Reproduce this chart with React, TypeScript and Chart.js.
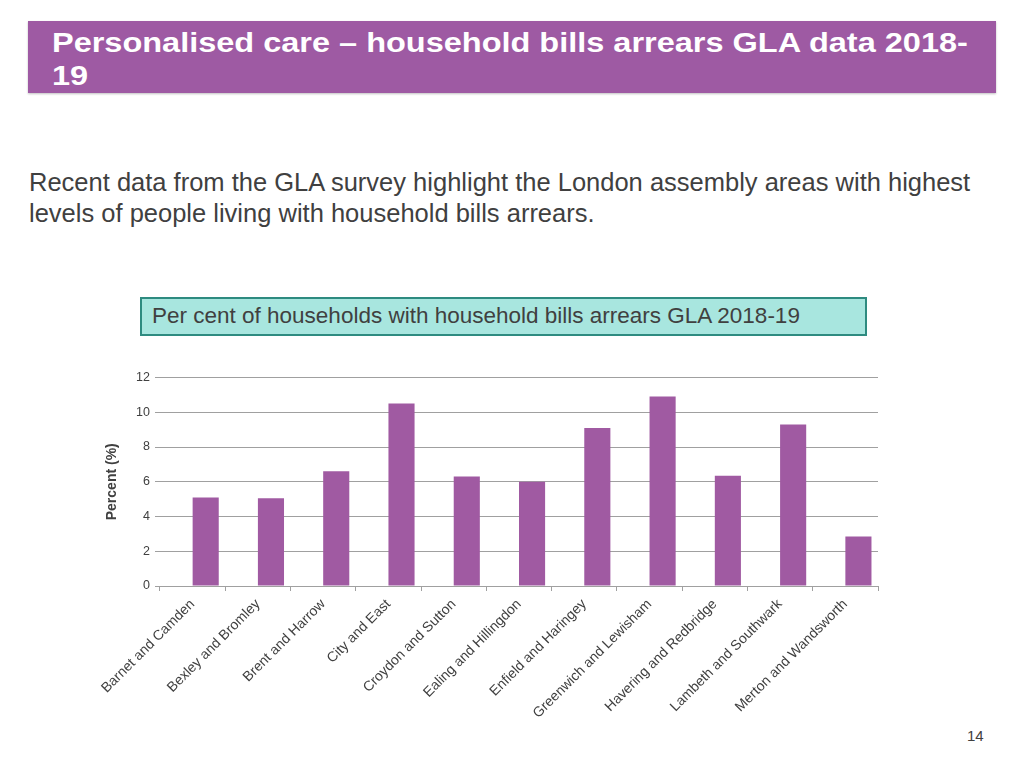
import React, { useEffect, useRef } from "react";
import { Chart, registerables } from "chart.js";

Chart.register(...registerables);

const categories = [
  "Barnet and Camden",
  "Bexley and Bromley",
  "Brent and Harrow",
  "City and East",
  "Croydon and Sutton",
  "Ealing and Hillingdon",
  "Enfield and Haringey",
  "Greenwich and Lewisham",
  "Havering and Redbridge",
  "Lambeth and Southwark",
  "Merton and Wandsworth",
];
const emptySeries = [null, null, null, null, null, null, null, null, null, null, null];
const arrearsPercent = [5.1, 5.05, 6.6, 10.5, 6.3, 6.0, 9.1, 10.9, 6.35, 9.3, 2.85];
const yTicks = [0, 2, 4, 6, 8, 10, 12];

const FONT = "'Liberation Sans', Arial, Helvetica, sans-serif";
const TEXT = "#404040";

export default function App() {
  const ref = useRef<HTMLCanvasElement | null>(null);

  useEffect(() => {
    if (!ref.current) return;
    const chart = new Chart(ref.current, {
      type: "bar",
      data: {
        labels: categories,
        datasets: [
          {
            label: "",
            data: emptySeries as any,
            backgroundColor: "rgba(0,0,0,0)",
            borderWidth: 0,
            barPercentage: 1,
            categoryPercentage: 0.8,
          },
          {
            label: "Per cent",
            data: arrearsPercent,
            backgroundColor: "#a05aa2",
            borderWidth: 0,
            barPercentage: 1,
            categoryPercentage: 0.8,
          },
        ],
      },
      options: {
        animation: false,
        responsive: false,
        maintainAspectRatio: false,
        layout: { padding: { left: 0, right: 12, top: 8, bottom: 0 } },
        plugins: { legend: { display: false }, tooltip: { enabled: false } },
        scales: {
          x: {
            offset: true,
            grid: {
              offset: true,
              drawOnChartArea: false,
              drawTicks: true,
              tickLength: 5,
              color: "#a0a0a0",
            },
            border: { display: true, color: "#a0a0a0", width: 1 },
            ticks: {
              minRotation: 45,
              maxRotation: 45,
              autoSkip: false,
              color: TEXT,
              font: { family: FONT, size: 14 },
              padding: 5,
            },
            afterFit: (s: any) => {
              s.height = 159;
            },
          },
          y: {
            min: 0,
            max: 12,
            afterBuildTicks: (s: any) => {
              s.ticks = yTicks.map((v) => ({ value: v }));
            },
            grid: {
              color: "#a0a0a0",
              lineWidth: 1,
              drawTicks: true,
              tickLength: 5,
            },
            border: { display: false },
            ticks: {
              color: TEXT,
              font: { family: FONT, size: 12.5 },
              padding: 5,
            },
            title: {
              display: true,
              text: "Percent (%)",
              color: TEXT,
              font: { family: FONT, size: 14, weight: "bold" },
              padding: { top: 44, bottom: 0 },
            },
            afterFit: (s: any) => {
              s.width = 100;
            },
          },
        },
      },
    });
    return () => chart.destroy();
  }, []);

  return (
    <div
      style={{
        position: "absolute",
        left: 0,
        top: 0,
        width: 1024,
        height: 768,
        background: "#ffffff",
        fontFamily: FONT,
        overflow: "hidden",
      }}
    >
      <div
        style={{
          position: "absolute",
          left: 28,
          top: 21,
          width: 968,
          height: 72,
          background: "#9e5aa3",
          boxShadow: "0 1px 2px rgba(0,0,0,0.25)",
        }}
      >
        <div
          style={{
            position: "absolute",
            left: 24,
            top: 5,
            color: "#ffffff",
            fontWeight: "bold",
            fontSize: 28,
            lineHeight: "33px",
            whiteSpace: "nowrap",
            transform: "scaleX(1.16)",
            transformOrigin: "0 0",
          }}
        >
          Personalised care – household bills arrears GLA data 2018-
          <br />
          19
        </div>
      </div>
      <div
        style={{
          position: "absolute",
          left: 29,
          top: 167,
          color: TEXT,
          fontSize: 25.5,
          lineHeight: "31px",
          whiteSpace: "nowrap",
        }}
      >
        Recent data from the GLA survey highlight the London assembly areas with highest
        <br />
        levels of people living with household bills arrears.
      </div>
      <div
        style={{
          position: "absolute",
          left: 140,
          top: 297,
          width: 723,
          height: 35,
          background: "#a8e6df",
          border: "2px solid #2e8b80",
        }}
      >
        <div
          style={{
            position: "absolute",
            left: 10,
            top: 4,
            color: TEXT,
            fontSize: 22.5,
            lineHeight: "26px",
            whiteSpace: "nowrap",
          }}
        >
          Per cent of households with household bills arrears GLA 2018-19
        </div>
      </div>
      <canvas
        ref={ref}
        width={830}
        height={380}
        style={{ position: "absolute", left: 60, top: 365, width: 830, height: 380 }}
      />
      <div
        style={{
          position: "absolute",
          left: 967,
          top: 727,
          color: TEXT,
          fontSize: 15,
          lineHeight: "18px",
        }}
      >
        14
      </div>
    </div>
  );
}
